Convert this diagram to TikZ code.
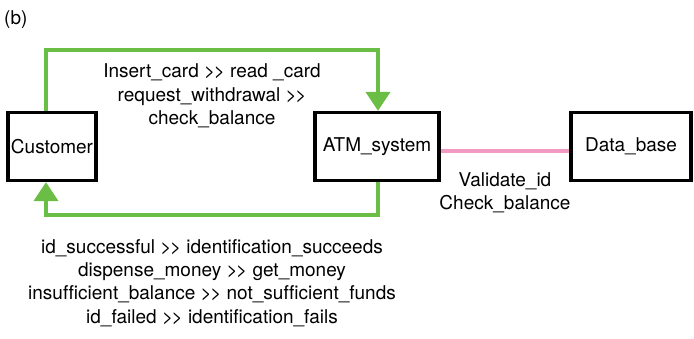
\documentclass[tikz,border=0pt]{standalone}
\usepackage{fontspec}
\setmainfont{TeX Gyre Heros}[Ligatures=NoCommon]
\usetikzlibrary{arrows.meta}
\definecolor{flowgreen}{HTML}{6BBE45}
\definecolor{linkpink}{HTML}{F29AC3}
\newcommand{\gtgt}{{>}\kern-1.5pt{>}}
\begin{document}
\begin{tikzpicture}[x=1pt,y=-1pt,
  box/.style={draw=black,line width=3.4pt,minimum width=88pt,minimum height=68pt,inner sep=0pt,font=\fontsize{19}{22}\selectfont},
  flow/.style={draw=flowgreen,line width=4pt,-{Triangle[length=19pt,width=24pt]}},
  lbl/.style={align=center,font=\fontsize{19}{23.3}\selectfont,inner sep=0pt}]
\useasboundingbox (0,0) rectangle (694,339);
\node[anchor=west,inner sep=0pt,font=\fontsize{19}{22}\selectfont] (tag) at (4,20) {(b)};
\node[box] (cust) at (52,146.5) {Customer};
\node[box,minimum width=124pt] (atm) at (377,146.5) {ATM\_system};
\node[box,minimum width=120pt] (db) at (631,146.5) {Data\_base};
\coordinate (tl) at (46,50);
\coordinate (tr) at (378,50);
\coordinate (br) at (378,215);
\coordinate (bl) at (46,215);
\draw[flow] (cust.north -| tl) -- (tl) -- (tr) -- (atm.north -| tr);
\draw[flow] (atm.south -| br) -- (br) -- (bl) -- (cust.south -| bl);
\draw[linkpink,line width=4pt] (atm.east) ++(0,5) coordinate (pa) (pa) -- (pa -| db.west);
\node[lbl] (top) at (212,96) {Insert\_card \gtgt{} read \_card\\request\_withdrawal \gtgt\\check\_balance};
\node[lbl] (dbl) at (505,193) {Validate\_id\\Check\_balance};
\node[lbl] (bot) at (212,283) {id\_successful \gtgt{} identification\_succeeds\\dispense\_money \gtgt{} get\_money\\insufficient\_balance \gtgt{} not\_sufficient\_funds\\id\_failed \gtgt{} identification\_fails};
\end{tikzpicture}
\end{document}
